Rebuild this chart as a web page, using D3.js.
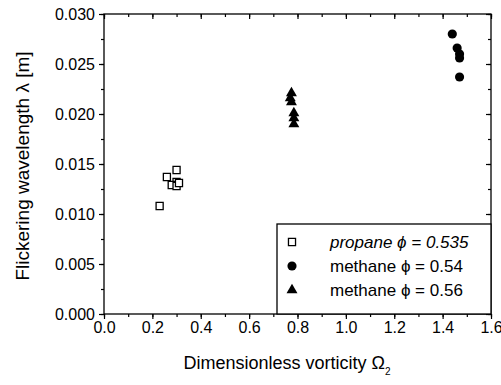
<!DOCTYPE html>
<html><head><meta charset="utf-8">
<script src="https://cdn.jsdelivr.net/npm/d3@7"></script>
<style>body{margin:0;background:#fff}svg{display:block}text{font-family:"Liberation Sans",Arial,sans-serif;fill:#000}</style>
</head><body><svg id="c" width="501" height="385"></svg>
<script>
const propaneX = [0.23, 0.26, 0.30, 0.30, 0.28, 0.30, 0.31];
const propaneY = [0.0108, 0.0137, 0.0144, 0.0132, 0.0129, 0.0128, 0.0131];
const methane54X = [1.44, 1.46, 1.47, 1.47, 1.47];
const methane54Y = [0.0280, 0.0266, 0.0260, 0.0256, 0.0237];
const methane56X = [0.775, 0.77, 0.775, 0.785, 0.785, 0.785];
const methane56Y = [0.0221, 0.0216, 0.0212, 0.0201, 0.0196, 0.0190];
const xTicks = [0.0, 0.2, 0.4, 0.6, 0.8, 1.0, 1.2, 1.4, 1.6];
const yTicks = [0.000, 0.005, 0.010, 0.015, 0.020, 0.025, 0.030];
const legendLabels = ["propane \u03D5 = 0.535", "methane \u03D5 = 0.54", "methane \u03D5 = 0.56"];

const svg = d3.select("#c");
const L = 104, R = 491, T = 14, B = 314;
const x = d3.scaleLinear().domain([0, 1.6]).range([L, R]);
const y = d3.scaleLinear().domain([0, 0.030]).range([B, T]);
const xMinor = d3.range(0, 1.61, 0.1);
const yMinor = d3.range(0, 0.0301, 0.0025);

svg.append("rect").attr("x", L).attr("y", T).attr("width", R - L).attr("height", B - T)
  .attr("fill", "none").attr("stroke", "#000").attr("stroke-width", 1.3);

const gb = svg.append("g").attr("transform", `translate(0,${B})`)
  .call(d3.axisBottom(x).tickValues(xTicks).tickFormat(d3.format(".1f")).tickSize(5).tickPadding(3));
gb.append("g").call(d3.axisBottom(x).tickValues(xMinor).tickFormat("").tickSize(3));
const gt = svg.append("g").attr("transform", `translate(0,${T})`)
  .call(d3.axisBottom(x).tickValues(xTicks).tickFormat("").tickSize(5));
gt.append("g").call(d3.axisBottom(x).tickValues(xMinor).tickFormat("").tickSize(3));
const gl = svg.append("g").attr("transform", `translate(${L},0)`)
  .call(d3.axisLeft(y).tickValues(yTicks).tickFormat(d3.format(".3f")).tickSize(5).tickPadding(4));
gl.append("g").call(d3.axisLeft(y).tickValues(yMinor).tickFormat("").tickSize(3));
const gr = svg.append("g").attr("transform", `translate(${R},0)`)
  .call(d3.axisLeft(y).tickValues(yTicks).tickFormat("").tickSize(5));
gr.append("g").call(d3.axisLeft(y).tickValues(yMinor).tickFormat("").tickSize(3));

svg.selectAll(".domain").remove();
svg.selectAll(".tick line").attr("stroke", "#000").attr("stroke-width", 1.2);
svg.selectAll(".tick text").style("font-size", "16px").style("font-family", "Liberation Sans, Arial, sans-serif").attr("fill", "#000");

const sq = d3.symbol().type(d3.symbolSquare).size(50);
const ci = d3.symbol().type(d3.symbolCircle).size(66);
const tr = d3.symbol().type(d3.symbolTriangle).size(52);
svg.append("g").selectAll("path").data(d3.zip(propaneX, propaneY)).join("path")
  .attr("d", sq).attr("transform", d => `translate(${x(d[0])},${y(d[1])})`)
  .attr("fill", "#fff").attr("stroke", "#000").attr("stroke-width", 1.3);
svg.append("g").selectAll("path").data(d3.zip(methane56X, methane56Y)).join("path")
  .attr("d", tr).attr("transform", d => `translate(${x(d[0])},${y(d[1])})`).attr("fill", "#000");
svg.append("g").selectAll("path").data(d3.zip(methane54X, methane54Y)).join("path")
  .attr("d", ci).attr("transform", d => `translate(${x(d[0])},${y(d[1])})`).attr("fill", "#000");

const lg = svg.append("g");
lg.append("rect").attr("x", 277).attr("y", 224).attr("width", R - 277).attr("height", B - 224)
  .attr("fill", "#fff").attr("stroke", "#000").attr("stroke-width", 1.3);
const syms = [
  {s: sq, fill: "#fff", stroke: "#000"},
  {s: ci, fill: "#000", stroke: "none"},
  {s: tr, fill: "#000", stroke: "none"}
];
legendLabels.forEach((t, i) => {
  const yy = 242 + i * 24;
  lg.append("path").attr("d", syms[i].s).attr("transform", `translate(292,${yy})`)
    .attr("fill", syms[i].fill).attr("stroke", syms[i].stroke).attr("stroke-width", 1.3);
  lg.append("text").attr("x", 330).attr("y", yy + 6).style("font-size", "17px")
    .style("font-style", i === 0 ? "italic" : "normal").text(t);
});

svg.append("text").attr("transform", "translate(29,166) rotate(-90)").attr("text-anchor", "middle")
  .style("font-size", "19px").text("Flickering wavelength \u03BB [m]");
const xt = svg.append("text").attr("x", 287).attr("y", 369).attr("text-anchor", "middle").style("font-size", "18px");
xt.append("tspan").text("Dimensionless vorticity \u03A9");
xt.append("tspan").attr("dy", 6).style("font-size", "10px").text("2");
</script></body></html>
